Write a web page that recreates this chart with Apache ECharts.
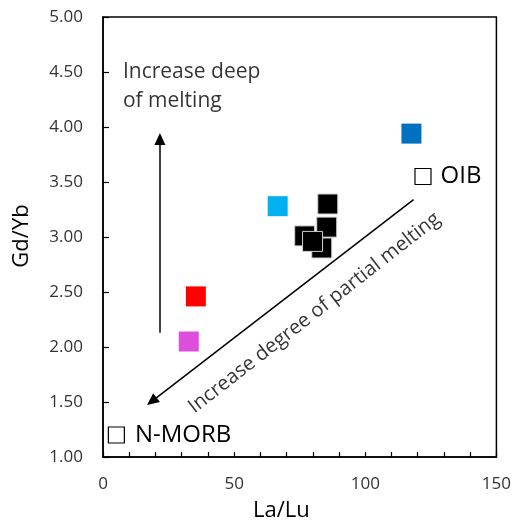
<!DOCTYPE html>
<html>
<head>
<meta charset="utf-8">
<script src="https://cdn.jsdelivr.net/npm/echarts@6/dist/echarts.min.js"></script>
<style>
  html, body { margin: 0; padding: 0; background: #fff; }
  #chart { width: 514px; height: 528px; }
</style>
</head>
<body>
<div id="chart"></div>
<script>
// La/Lu vs Gd/Yb samples
var blueSample = [[117.6, 3.94]];
var cyanSample = [[66.6, 3.28]];
var redSample = [[35.4, 2.46]];
var pinkSample = [[32.7, 2.05]];
var blackSamples = [[85.7, 3.30], [85.3, 3.09], [76.9, 3.01], [83.4, 2.90], [79.9, 2.96]];
var oib = [[122.0, 3.55]];
var nMorb = [[5.1, 1.20]];

// arrows: [start, end]
var depthArrow = [[21.7, 2.13], [21.7, 3.89]];
var meltArrow = [[118.4, 3.34], [18.6, 1.506]];

// annotation anchors
var depthNote = [[7.6, 4.37]];
var meltNote = [[80.6, 2.31]];

var FONT = "Open Sans";

var chart = echarts.init(document.getElementById("chart"));

function square(name, data, color, z) {
  return {
    name: name,
    type: "scatter",
    data: data,
    symbol: "rect",
    symbolSize: 20,
    z: z || 3,
    itemStyle: { color: color, opacity: 1 }
  };
}

function openSquare(name, data, text, gap) {
  return {
    name: name,
    type: "scatter",
    data: data,
    symbol: "rect",
    symbolSize: 16,
    itemStyle: { color: "#fff", borderColor: "#000", borderWidth: 1.2, opacity: 1 },
    label: {
      show: true,
      position: "right",
      distance: gap,
      formatter: text,
      fontFamily: FONT,
      fontSize: 24,
      color: "#000"
    }
  };
}

function arrow(pts) {
  return {
    type: "line",
    data: [],
    markLine: {
      silent: true,
      symbol: ["none", "triangle"],
      symbolSize: [11, 12],
      label: { show: false },
      lineStyle: { color: "#000", width: 1.5, type: "solid" },
      data: [[{ coord: pts[0] }, { coord: pts[1] }]]
    }
  };
}

var option = {
  animation: false,
  backgroundColor: "#fff",
  grid: {
    left: 103, right: 17, top: 17, bottom: 71,
    show: true, borderColor: "#000", borderWidth: 1.5
  },
  xAxis: {
    type: "value",
    min: 0, max: 150, interval: 50,
    axisLine: { show: true, lineStyle: { color: "#000", width: 1.5 } },
    axisTick: { show: true, inside: true, length: 5, lineStyle: { color: "#000", width: 1.2 } },
    minorTick: { show: true, splitNumber: 5, length: 5, lineStyle: { color: "#000", width: 1.2 } },
    splitLine: { show: false },
    axisLabel: { margin: 19, fontFamily: FONT, fontSize: 17, color: "#333" }
  },
  yAxis: {
    type: "value",
    min: 1, max: 5, interval: 0.5,
    axisLine: { show: true, lineStyle: { color: "#000", width: 1.5 } },
    axisTick: { show: true, inside: true, length: 6, lineStyle: { color: "#000", width: 1.2 } },
    splitLine: { show: false },
    axisLabel: {
      margin: 20, fontFamily: FONT, fontSize: 17, color: "#333",
      formatter: function (v) { return v.toFixed(2); }
    }
  },
  graphic: [
    {
      type: "text", left: 253, top: 500,
      style: { text: "La/Lu", fontFamily: FONT, fontSize: 22, fill: "#000" }
    },
    {
      type: "text", x: 22, y: 236, rotation: Math.PI / 2,
      style: { text: "Gd/Yb", fontFamily: FONT, fontSize: 22, fill: "#000",
        align: "center", verticalAlign: "middle" }
    }
  ],
  series: [
    arrow(depthArrow),
    arrow(meltArrow),
    square("blue", blueSample, "#0070C0"),
    square("cyan", cyanSample, "#00B0F0"),
    square("red", redSample, "#FF0000"),
    square("pink", pinkSample, "#DC4FDC"),
    {
      name: "samples",
      type: "scatter",
      data: blackSamples,
      symbol: "rect",
      symbolSize: 20,
      z: 4,
      itemStyle: { color: "#000", borderColor: "#d0d0d0", borderWidth: 1, opacity: 1 }
    },
    openSquare("OIB", oib, "OIB", 9),
    openSquare("N-MORB", nMorb, "N-MORB", 10),
    {
      type: "scatter",
      data: depthNote,
      symbolSize: 0,
      silent: true,
      label: {
        show: true, position: "right", distance: 0,
        formatter: "Increase deep\nof melting",
        fontFamily: FONT, fontSize: 21, lineHeight: 29, color: "#000"
      }
    },
    {
      type: "scatter",
      data: meltNote,
      symbolSize: 0,
      silent: true,
      label: {
        show: true, position: "inside", rotate: 38,
        formatter: "Increase degree of partial melting",
        fontFamily: FONT, fontSize: 20, color: "#000"
      }
    }
  ]
};

chart.setOption(option);
</script>
</body>
</html>
